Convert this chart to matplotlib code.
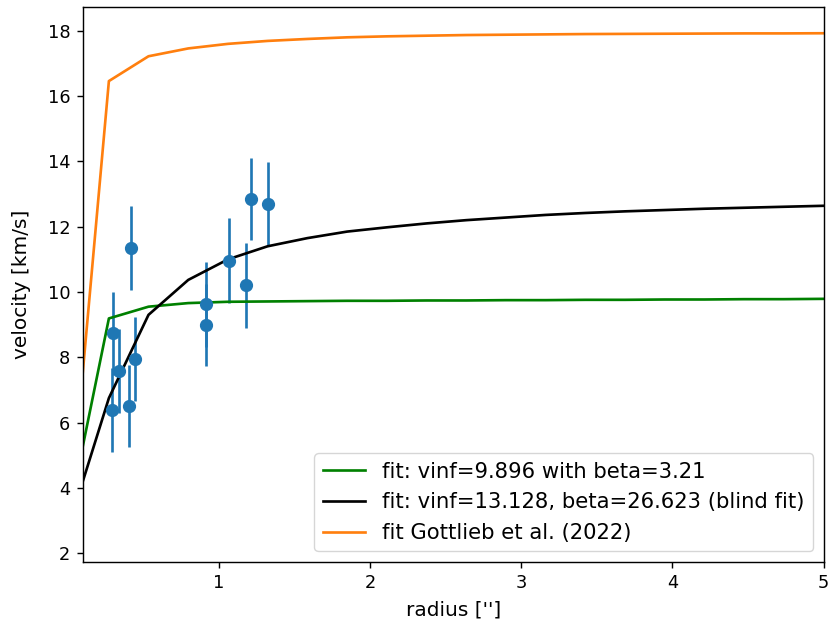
import matplotlib
matplotlib.use("Agg")
import matplotlib.pyplot as plt

# model grid (radius in arcsec)
r_grid = [0.010, 0.273, 0.535, 0.798, 1.061, 1.323, 1.586, 1.849, 2.111, 2.374,
          2.637, 2.899, 3.162, 3.425, 3.687, 3.950, 4.213, 4.475, 4.738, 5.000]

v_fit_beta = [3.22, 9.19, 9.55, 9.66, 9.70, 9.71, 9.72, 9.73, 9.73, 9.74,
              9.74, 9.75, 9.75, 9.76, 9.76, 9.77, 9.77, 9.78, 9.78, 9.79]

v_fit_blind = [2.86, 6.75, 9.30, 10.37, 11.00, 11.40, 11.65, 11.85, 11.98, 12.10,
               12.20, 12.28, 12.36, 12.42, 12.47, 12.51, 12.55, 12.58, 12.61, 12.64]

v_gottlieb = [2.87, 16.46, 17.22, 17.46, 17.60, 17.69, 17.75, 17.80, 17.83, 17.85,
              17.87, 17.88, 17.89, 17.90, 17.905, 17.91, 17.915, 17.92, 17.92, 17.925]

# observed points
r_obs = [0.298, 0.338, 0.294, 0.404, 0.446, 0.420, 0.917, 0.917, 1.066, 1.177, 1.215, 1.325]
v_obs = [8.73, 7.58, 6.39, 6.51, 7.94, 11.34, 9.63, 8.99, 10.96, 10.21, 12.84, 12.71]
v_err = [1.28, 1.28, 1.28, 1.25, 1.28, 1.28, 1.30, 1.25, 1.30, 1.30, 1.25, 1.27]

labels = ["fit: vinf=9.896 with beta=3.21",
          "fit: vinf=13.128, beta=26.623 (blind fit)",
          "fit Gottlieb et al. (2022)"]

s = 1.28
plt.rcParams.update({
    "font.size": 10 * s,
    "axes.linewidth": 0.8 * s,
    "xtick.major.width": 0.8 * s,
    "ytick.major.width": 0.8 * s,
    "xtick.major.size": 3.5 * s,
    "ytick.major.size": 3.5 * s,
    "xtick.major.pad": 3.5 * s,
    "ytick.major.pad": 3.5 * s,
})

fig = plt.figure(figsize=(8.29, 6.28), dpi=100)
ax = fig.add_axes([0.0998, 0.1051, 0.9934 - 0.0998, 0.9884 - 0.1051])

ax.errorbar(r_obs, v_obs, yerr=v_err, fmt="o", color="tab:blue",
            markersize=8.5, elinewidth=1.5 * s)
ax.plot(r_grid, v_fit_beta, color="green", lw=1.5 * s, label=labels[0])
ax.plot(r_grid, v_fit_blind, color="black", lw=1.5 * s, label=labels[1])
ax.plot(r_grid, v_gottlieb, color="tab:orange", lw=1.5 * s, label=labels[2])

ax.set_xlim(0.1, 5)
ax.set_ylim(1.73, 18.72)
ax.set_yticks([2, 4, 6, 8, 10, 12, 14, 16, 18])
ax.set_xticks([1, 2, 3, 4, 5])
ax.set_xlabel("radius ['']", fontsize=14.5, labelpad=6)
ax.set_ylabel("velocity [km/s]", fontsize=14.5, labelpad=12)
ax.legend(loc="lower right", fontsize=15.2)

fig.savefig("out.png", dpi=100)
